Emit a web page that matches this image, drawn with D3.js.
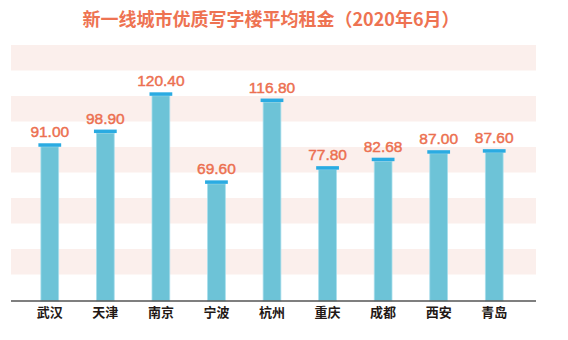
<!DOCTYPE html>
<html>
<head>
<meta charset="utf-8">
<script src="https://cdn.jsdelivr.net/npm/d3@7/dist/d3.min.js"></script>
<style>
  html, body { margin: 0; padding: 0; background: #ffffff; }
  svg { display: block; }
</style>
</head>
<body>
<svg id="chart" width="568" height="340"></svg>
<script>
// Average rent of prime office space in new first-tier cities, June 2020
const titleText = "新一线城市优质写字楼平均租金（2020年6月）";
const cities = ["武汉", "天津", "南京", "宁波", "杭州", "重庆", "成都", "西安", "青岛"];
const rents = [91.00, 98.90, 120.40, 69.60, 116.80, 77.80, 82.68, 87.00, 87.60];
const stripeBands = [0, 1, 2, 3, 4, 5, 6, 7, 8, 9];

const W = 568, H = 340;
const plot = { left: 11, right: 536, top: 45, bottom: 301 };

const svg = d3.select("#chart");

// background striping behind the bars
const band = d3.scaleBand().domain(stripeBands).range([plot.top, 300]);
svg.append("g").selectAll("rect")
  .data(stripeBands.filter(i => i % 2 === 0))
  .join("rect")
  .attr("x", plot.left)
  .attr("width", plot.right - plot.left)
  .attr("y", d => band(d))
  .attr("height", band.bandwidth())
  .attr("fill", "#fbefec");

const x = d3.scaleBand()
  .domain(cities)
  .range([22, 522])
  .paddingInner(0.68)
  .paddingOuter(0.34);

const y = d3.scaleLinear().domain([0, 150]).range([plot.bottom, 41]);

const capExtra = 2.5, capH = 3.5;

const bars = svg.append("g").selectAll("g")
  .data(cities.map((c, i) => ({ city: c, value: rents[i] })))
  .join("g");

bars.append("rect")
  .attr("x", d => x(d.city))
  .attr("width", x.bandwidth())
  .attr("y", d => y(d.value) + capH)
  .attr("height", d => y(0) - y(d.value) - capH)
  .attr("fill", "#6dc3d7")
  .attr("stroke", "#a9deec")
  .attr("stroke-width", 0.8);

bars.append("rect")
  .attr("x", d => x(d.city) - capExtra)
  .attr("width", x.bandwidth() + capExtra * 2)
  .attr("y", d => y(d.value))
  .attr("height", capH)
  .attr("fill", "#2aabe2");

bars.append("text")
  .attr("x", d => x(d.city) + x.bandwidth() / 2)
  .attr("y", d => y(d.value) - 6)
  .attr("text-anchor", "middle")
  .attr("font-family", "'Liberation Sans', Arial, sans-serif")
  .attr("font-size", 15.5)
  .attr("fill", "#ec7050")
  .attr("stroke", "#ec7050")
  .attr("stroke-width", 0.45)
  .text(d => d.value.toFixed(2));

// baseline axis with city names
const axis = svg.append("g")
  .attr("transform", `translate(0,${plot.bottom})`)
  .call(d3.axisBottom(x).tickSize(0).tickPadding(7));
axis.select(".domain").remove();
axis.selectAll("text")
  .attr("font-family", "'Noto Sans CJK SC', sans-serif")
  .attr("font-size", 13)
  .attr("font-weight", "bold")
  .attr("fill", "#231815");

svg.append("line")
  .attr("x1", plot.left).attr("x2", plot.right)
  .attr("y1", plot.bottom).attr("y2", plot.bottom)
  .attr("stroke", "#555555")
  .attr("stroke-width", 1.6);

svg.append("text")
  .attr("x", 271)
  .attr("y", 26)
  .attr("text-anchor", "middle")
  .attr("font-family", "'Noto Sans CJK SC', sans-serif")
  .attr("font-size", 18)
  .attr("font-weight", "bold")
  .attr("fill", "#ee7352")
  .text(titleText);
</script>
</body>
</html>
